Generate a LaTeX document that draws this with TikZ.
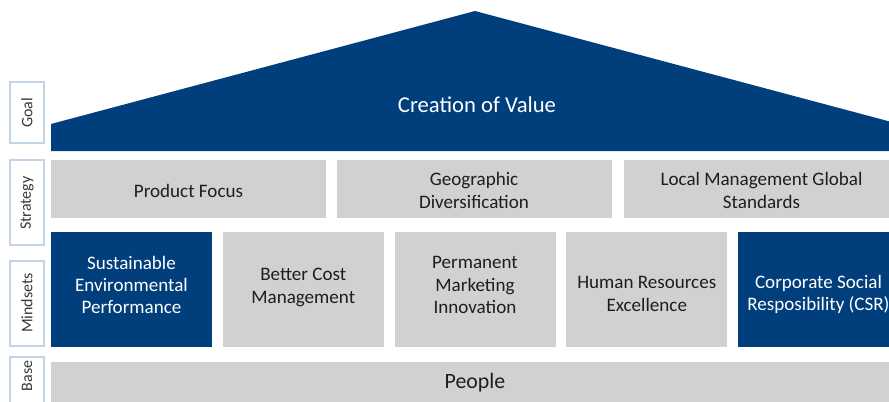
\documentclass[tikz,border=0pt]{standalone}
\usepackage{fontspec}
\setmainfont{Carlito}
\definecolor{hausblau}{HTML}{003E7C}
\definecolor{hausgrau}{HTML}{D0D1D3}
\definecolor{rahmen}{HTML}{C3D4E9}
\definecolor{schrift}{HTML}{1E1E1E}
\definecolor{seitenschrift}{HTML}{383838}
\tikzset{
  grau/.style={fill=hausgrau, inner sep=0pt, text=schrift, align=center},
  seite/.style={draw=rahmen, line width=0.8pt, fill=white, rotate=90, inner sep=0pt, minimum height=25.5pt},
  seitentext/.style={rotate=90, text=seitenschrift, font=\fontsize{12}{14}\selectfont}
}
\begin{document}
\begin{tikzpicture}[x=0.75pt, y=-0.75pt, font=\fontsize{14.3}{16.8}\selectfont]
\useasboundingbox (0,0) rectangle (889,401);

% roof
\fill[hausblau] (51,151) -- (51,124) -- (475,11) -- (899,124) -- (899,151) -- cycle;
\node[text=white, font=\fontsize{17}{20}\selectfont] (ziel) at (477,105) {Creation of Value};

% strategy row
\foreach \x/\n/\txt in {188.5/1/{Product Focus}, 474/2/{Geographic\\Diversification}, 761.5/3/{Local Management Global\\Standards}}
  \node[grau, minimum width=206.25pt, minimum height=43.5pt] (s\n) at (\x,189) {};
\foreach \x/\n/\txt in {188.5/1/{Product Focus}, 474/2/{Geographic\\Diversification}, 761.5/3/{Local Management Global\\Standards}}
  \node[text=schrift, align=center] (s\n-t) at (\x,190.5) {\txt};

% mindsets row
\foreach \x/\n/\farbe/\tf/\ty/\txt in {131.5/1/hausblau/white/285/{Sustainable\\Environmental\\Performance},
    303.25/2/hausgrau/schrift/287.5/{Better Cost\\Management},
    475/3/hausgrau/schrift/285/{Permanent\\Marketing\\Innovation},
    646.75/4/hausgrau/schrift/294/{Human Resources\\Excellence},
    818.5/5/hausblau/white/294.5/{Corporate Social\\Resposibility (CSR)}}{
  \node[fill=\farbe, inner sep=0pt, minimum width=120.75pt, minimum height=86.25pt] (m\n) at (\x,289.5) {};
  \node[text=\tf, align=center] (m\n-t) at (\x,\ty) {\txt};
}

% base
\node[grau, minimum width=636pt, minimum height=36pt] (basis) at (475,386) {};
\node[text=schrift, font=\fontsize{16.4}{19}\selectfont] (basis-t) at (475,383) {People};

% side labels
\foreach \n/\by/\len/\ty in {Goal/112.5/45.75pt/113, Strategy/202.5/63.75pt/203, Mindsets/303.5/63.75pt/303, Base/388.5/47.25pt/376}{
  \node[seite, minimum width=\len] (l-\n) at (27,\by) {};
  \node[seitentext] (l-\n-t) at (27,\ty) {\n};
}

\end{tikzpicture}
\end{document}
